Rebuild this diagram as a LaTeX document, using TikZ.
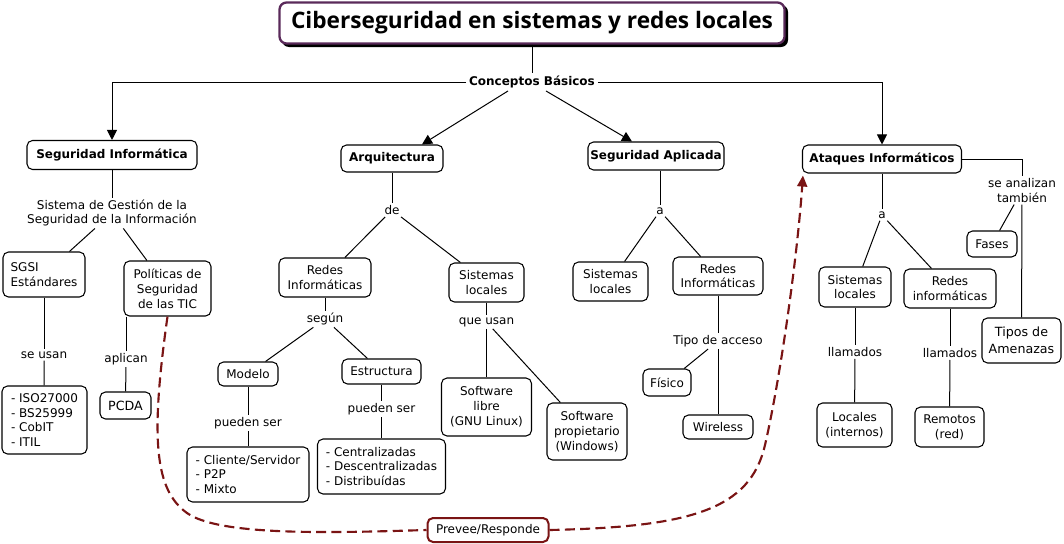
\documentclass[tikz,border=0pt]{standalone}
\usepackage{fontspec}
\setmainfont{DejaVu Sans}
\newfontfamily\titlefont{Open Sans}
\usetikzlibrary{arrows.meta}
\def\pxu{0.75pt}
\definecolor{dred}{HTML}{7A1414}
\definecolor{tpurple}{HTML}{5A2A5A}
\tikzset{
  cbox/.style 2 args={draw=black, line width=0.8pt, fill=white, rounded corners=5.5*\pxu,
     align=center, inner sep=0pt, minimum width=#1*\pxu, minimum height=#2*\pxu,
     font=\fontsize{9}{11.2}\selectfont},
  lbox/.style 2 args={cbox={#1}{#2}, align=left},
  bbox/.style 2 args={cbox={#1}{#2}, font=\fontsize{9}{11.2}\selectfont\bfseries},
  lbl/.style={align=center, inner sep=1.5pt, font=\fontsize{9}{10.7}\selectfont},
  conn/.style={draw=black, line width=0.75pt},
  arr/.style={conn, -{Triangle[length=10*\pxu, width=10*\pxu]}},
  dashr/.style={draw=dred, line width=1.6pt, dash pattern=on 7.5pt off 4pt},
}
\begin{document}
\begin{tikzpicture}[x=0.75pt, y=-0.75pt]
\useasboundingbox[fill=white] (0,0) rectangle (1064,543);

% title
\fill[black, rounded corners=7*\pxu] (282,5) rectangle (788,47);
\node[draw=tpurple, line width=1.7pt, fill=white, rounded corners=7*\pxu,
      minimum width=505*\pxu, minimum height=41*\pxu, inner sep=0pt,
      font=\titlefont\fontsize{17}{19}\selectfont\bfseries] (title) at (532,23)
      {Ciberseguridad en sistemas y redes locales};

\node[lbl, font=\fontsize{9}{11}\selectfont\bfseries, inner sep=2pt] (cb) at (532,82) {Conceptos Básicos};

% level 1
\node[bbox={170}{29}] (si) at (112,155) {Seguridad Informática};
\node[bbox={102}{27}] (arq) at (392,158.5) {Arquitectura};
\node[bbox={136}{28}] (sa) at (656,156) {Seguridad Aplicada};
\node[bbox={159}{28}] (ai) at (882,159) {Ataques Informáticos};

% Seguridad informatica branch
\node[lbl] (sgl) at (112,213) {Sistema de Gestión de la\\Seguridad de la Información};
\node[lbox={82}{45}] (sgsi) at (44,274.5) {SGSI\\Estándares};
\node[cbox={87}{55}] (pol) at (167.5,288.5) {Políticas de\\Seguridad\\de las TIC};
\node[lbl] (seusan) at (44,355) {se usan};
\node[lbox={85}{68}, font=\fontsize{9}{11}\selectfont] (iso) at (44.5,420) {- ISO27000\\- BS25999\\- CobIT\\- ITIL};
\node[lbl] (aplican) at (126,359) {aplican};
\node[cbox={51}{27}, font=\fontsize{9.5}{11}\selectfont] (pcda) at (125.5,405.5) {PCDA};

% Arquitectura branch
\node[lbl] (de) at (392,210) {de};
\node[cbox={92}{39}] (redes1) at (325,277.5) {Redes\\Informáticas};
\node[lbl] (segun) at (325,319) {según};
\node[cbox={60}{24}] (modelo) at (248,374) {Modelo};
\node[cbox={79}{25}] (estr) at (381.5,371.5) {Estructura};
\node[lbl] (ps1) at (248,423) {pueden ser};
\node[lbl] (ps2) at (381.5,409) {pueden ser};
\node[lbox={122}{55}] (cli) at (248,474.5) {- Cliente/Servidor\\- P2P\\- Mixto};
\node[lbox={128}{55}] (cen) at (381.5,466.5) {- Centralizadas\\- Descentralizadas\\- Distribuídas};
\node[cbox={75}{39}] (sl1) at (486.5,282.5) {Sistemas\\locales};
\node[lbl] (queusan) at (486.5,322) {que usan};
\node[cbox={90}{58}] (swl) at (486.5,407) {Software\\libre\\(GNU Linux)};
\node[cbox={80}{57}] (swp) at (587,431.5) {Software\\propietario\\(Windows)};

% Seguridad aplicada branch
\node[lbl] (a1) at (660,211) {a};
\node[cbox={75}{39}] (sl2) at (610.5,281.5) {Sistemas\\locales};
\node[cbox={90}{38}] (redes2) at (718,276) {Redes\\Informáticas};
\node[lbl] (tipo) at (718,341) {Tipo de acceso};
\node[cbox={48}{27}] (fis) at (667,382.5) {Físico};
\node[cbox={70}{24}] (wir) at (718,427) {Wireless};

% Ataques branch
\node[lbl] (a2) at (882,215) {a};
\node[cbox={72}{40}] (sl3) at (855,287) {Sistemas\\locales};
\node[cbox={92}{39}] (redes3) at (950,288.5) {Redes\\informáticas};
\node[lbl] (ll1) at (855,352) {llamados};
\node[lbl] (ll2) at (950,353) {llamados};
\node[cbox={75}{44}] (loc) at (854.5,425) {Locales\\(internos)};
\node[cbox={69}{40}] (rem) at (949.5,427) {Remotos\\(red)};
\node[lbl] (seanal) at (1022,190.5) {se analizan\\también};
\node[cbox={50}{26}] (fases) at (992,244) {Fases};
\node[cbox={79}{45}, font=\fontsize{9.5}{12.5}\selectfont] (tipos) at (1021.5,340.5) {Tipos de\\Amenazas};

% Prevee
\node[draw=dred, line width=1.5pt, fill=white, rounded corners=5.5*\pxu, inner sep=0pt,
      minimum width=121*\pxu, minimum height=24*\pxu, font=\fontsize{9}{11}\selectfont] (prev) at (488,530) {Prevee/Responde};

% connectors
\draw[conn] (title) -- (cb);
\draw[arr] (cb.west) -| (si.north);
\draw[arr] (cb.east) -| (ai.north);
\draw[arr] ([xshift=-24*\pxu]cb.south) -- ([xshift=30*\pxu]arq.north);
\draw[arr] ([xshift=14*\pxu]cb.south) -- ([xshift=-24*\pxu]sa.north);

\draw[conn] (si) -- (sgl);
\draw[conn] (sgl) -- (sgsi);
\draw[conn] (sgl) -- (pol);
\draw[conn] (sgsi) -- (seusan);
\draw[conn] (seusan) -- (iso);
\draw[conn] (pol.south -| aplican) -- (aplican);
\draw[conn] (aplican) -- (pcda);

\draw[conn] (arq) -- (de);
\draw[conn] (de) -- (redes1);
\draw[conn] (de) -- (sl1);
\draw[conn] (redes1) -- (segun);
\draw[conn] (segun) -- (modelo);
\draw[conn] (segun) -- (estr);
\draw[conn] (modelo) -- (ps1);
\draw[conn] (ps1) -- (cli);
\draw[conn] (estr) -- (ps2);
\draw[conn] (ps2) -- (cen);
\draw[conn] (sl1) -- (queusan);
\draw[conn] (queusan) -- (swl);
\draw[conn] (queusan) -- (swp);

\draw[conn] (sa.south -| a1) -- (a1);
\draw[conn] (a1) -- (sl2);
\draw[conn] (a1) -- (redes2);
\draw[conn] (redes2) -- (tipo);
\draw[conn] (tipo) -- (fis);
\draw[conn] (tipo) -- (wir);

\draw[conn] (ai) -- (a2);
\draw[conn] (a2) -- (sl3);
\draw[conn] (a2) -- (redes3);
\draw[conn] (sl3) -- (ll1);
\draw[conn] (ll1) -- (loc);
\draw[conn] (redes3) -- (ll2);
\draw[conn] (ll2) -- (rem);
\draw[conn] (ai.east) -| (seanal.north);
\draw[conn] (seanal) -- (fases);
\draw[conn] (seanal) -- (tipos);

% dashed relation
\draw[dashr] (pol.south) .. controls (150,440) and (155,490) .. (187,513)
   .. controls (219,536) and (330,533) .. (prev.west);
\draw[dashr, -{Triangle[length=11*\pxu, width=10*\pxu]}] (prev.east) .. controls (690,527) and (750,510) .. (765,445)
   .. controls (780,380) and (797,260) .. ([xshift=1*\pxu, yshift=-2*\pxu]ai.south west);
\end{tikzpicture}
\end{document}
